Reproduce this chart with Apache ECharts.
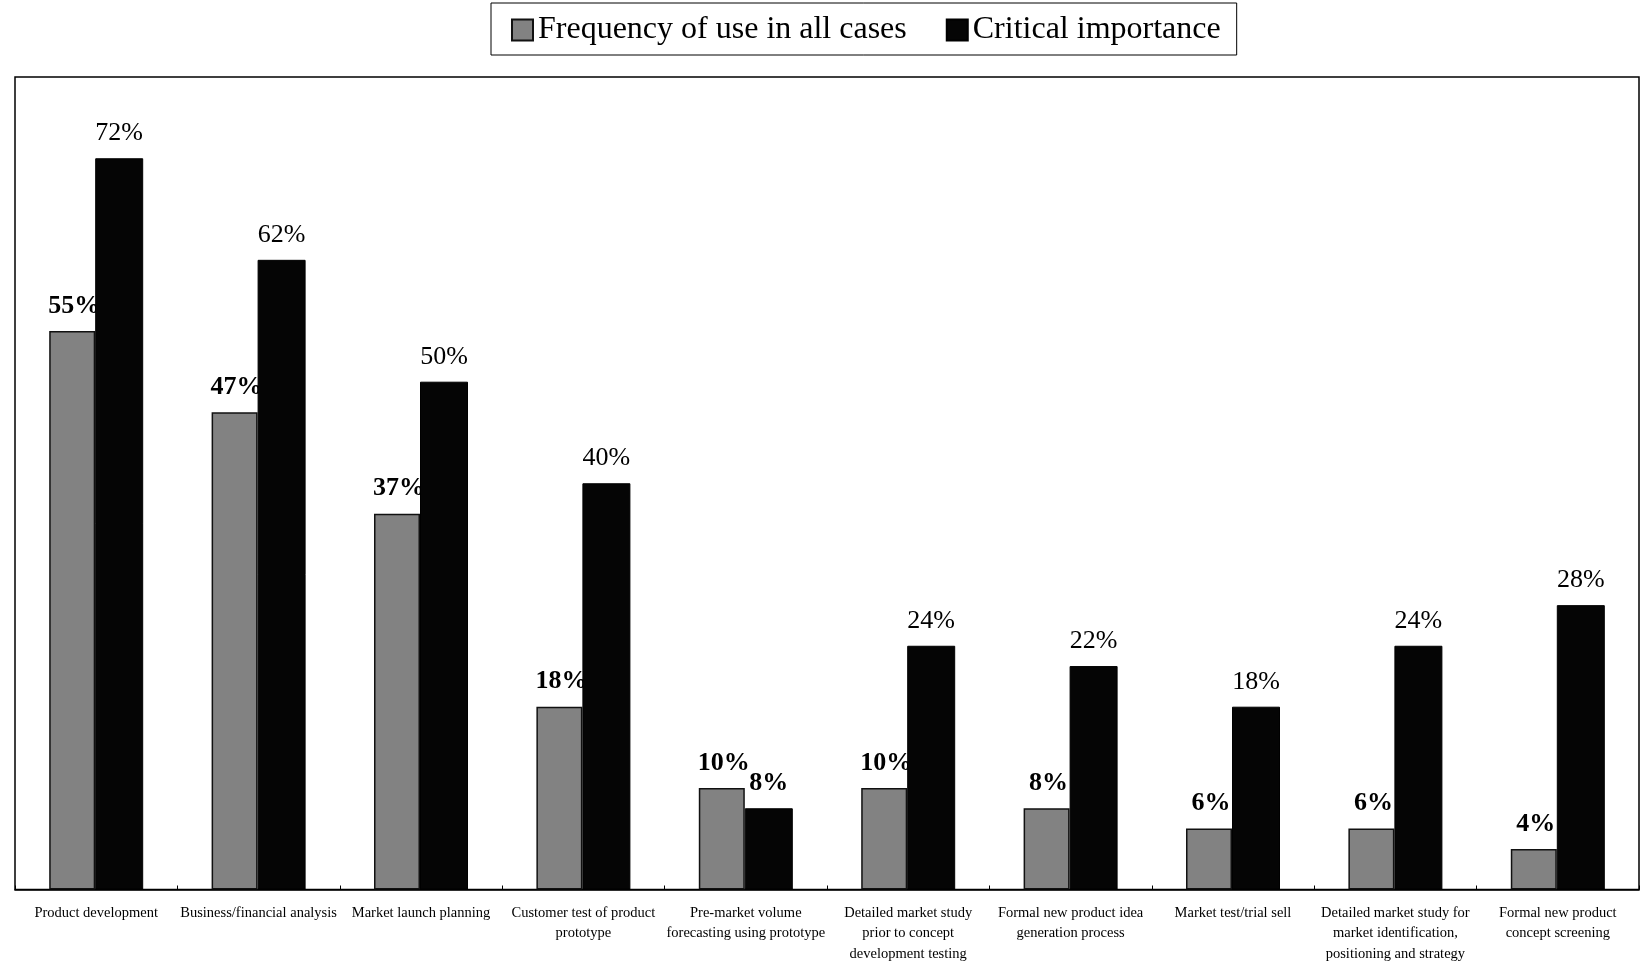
<!DOCTYPE html>
<html>
<head>
<meta charset="utf-8">
<script src="https://cdn.jsdelivr.net/npm/echarts@6/dist/echarts.min.js"></script>
<style>
  html, body { margin: 0; padding: 0; background: #fff; }
  #chart { width: 1648px; height: 964px; }
</style>
</head>
<body>
<div id="chart"></div>
<script>
// Stages of the new product process
const categories = [
  'Product development',
  'Business/financial analysis',
  'Market launch planning',
  'Customer test of product\nprototype',
  'Pre-market volume\nforecasting using prototype',
  'Detailed market study\nprior to concept\ndevelopment testing',
  'Formal new product idea\ngeneration process',
  'Market test/trial sell',
  'Detailed market study for\nmarket identification,\npositioning and strategy',
  'Formal new product\nconcept screening'
];
const seriesNames = ['Frequency of use in all cases', 'Critical importance'];
const frequencyOfUse = [55, 47, 37, 18, 10, 10, 8, 6, 6, 4];
const criticalImportance = [72, 62, 50, 40, 8, 24, 22, 18, 24, 28];
// values whose label is set in bold in the critical series
const boldCritical = [false, false, false, false, true, false, false, false, false, false];

const FONT = '"Liberation Serif", "Times New Roman", serif';

const chart = echarts.init(document.getElementById('chart'), null, { renderer: 'canvas' });

chart.setOption({
  backgroundColor: '#ffffff',
  animation: false,
  textStyle: { fontFamily: FONT, color: '#000' },
  legend: {
    left: 491,
    top: 3,
    padding: [11, 16, 9, 20],
    borderColor: '#000',
    borderWidth: 1,
    itemWidth: 21,
    itemHeight: 21,
    itemGap: 39,
    icon: 'rect',
    textStyle: { fontFamily: FONT, fontSize: 32, color: '#000' },
    data: seriesNames
  },
  grid: {
    left: 15,
    right: 9,
    top: 77,
    bottom: 74,
    show: true,
    borderColor: '#000',
    borderWidth: 1.5,
    backgroundColor: 'transparent',
    containLabel: false
  },
  xAxis: {
    type: 'category',
    data: categories,
    axisLine: { show: true, lineStyle: { color: '#000', width: 1.5 } },
    axisTick: { show: true, inside: true, length: 4, lineStyle: { color: '#000' } },
    axisLabel: {
      interval: 0,
      margin: 13,
      fontFamily: FONT,
      fontSize: 14.5,
      lineHeight: 20.5,
      color: '#000'
    }
  },
  yAxis: {
    type: 'value',
    min: 0,
    max: 80,
    show: false,
    splitLine: { show: false }
  },
  series: [
    {
      name: seriesNames[0],
      type: 'bar',
      z: 2,
      barWidth: 46,
      barGap: '0%',
      data: frequencyOfUse,
      itemStyle: { color: '#828282', borderColor: '#111', borderWidth: 1.5 },
      label: {
        show: true,
        position: 'top',
        distance: 12,
        offset: [2, 0],
        formatter: '{c}%',
        fontFamily: FONT,
        fontSize: 26,
        fontWeight: 'bold',
        color: '#000'
      }
    },
    {
      name: seriesNames[1],
      type: 'bar',
      z: 3,
      barWidth: 48,
      barGap: '0%',
      data: criticalImportance.map((v, i) => ({
        value: v,
        label: { fontWeight: boldCritical[i] ? 'bold' : 'normal' }
      })),
      itemStyle: { color: '#050505', borderColor: '#000', borderWidth: 1 },
      label: {
        show: true,
        position: 'top',
        distance: 12,
        formatter: '{c}%',
        fontFamily: FONT,
        fontSize: 26,
        color: '#000'
      }
    }
  ]
});
</script>
</body>
</html>
